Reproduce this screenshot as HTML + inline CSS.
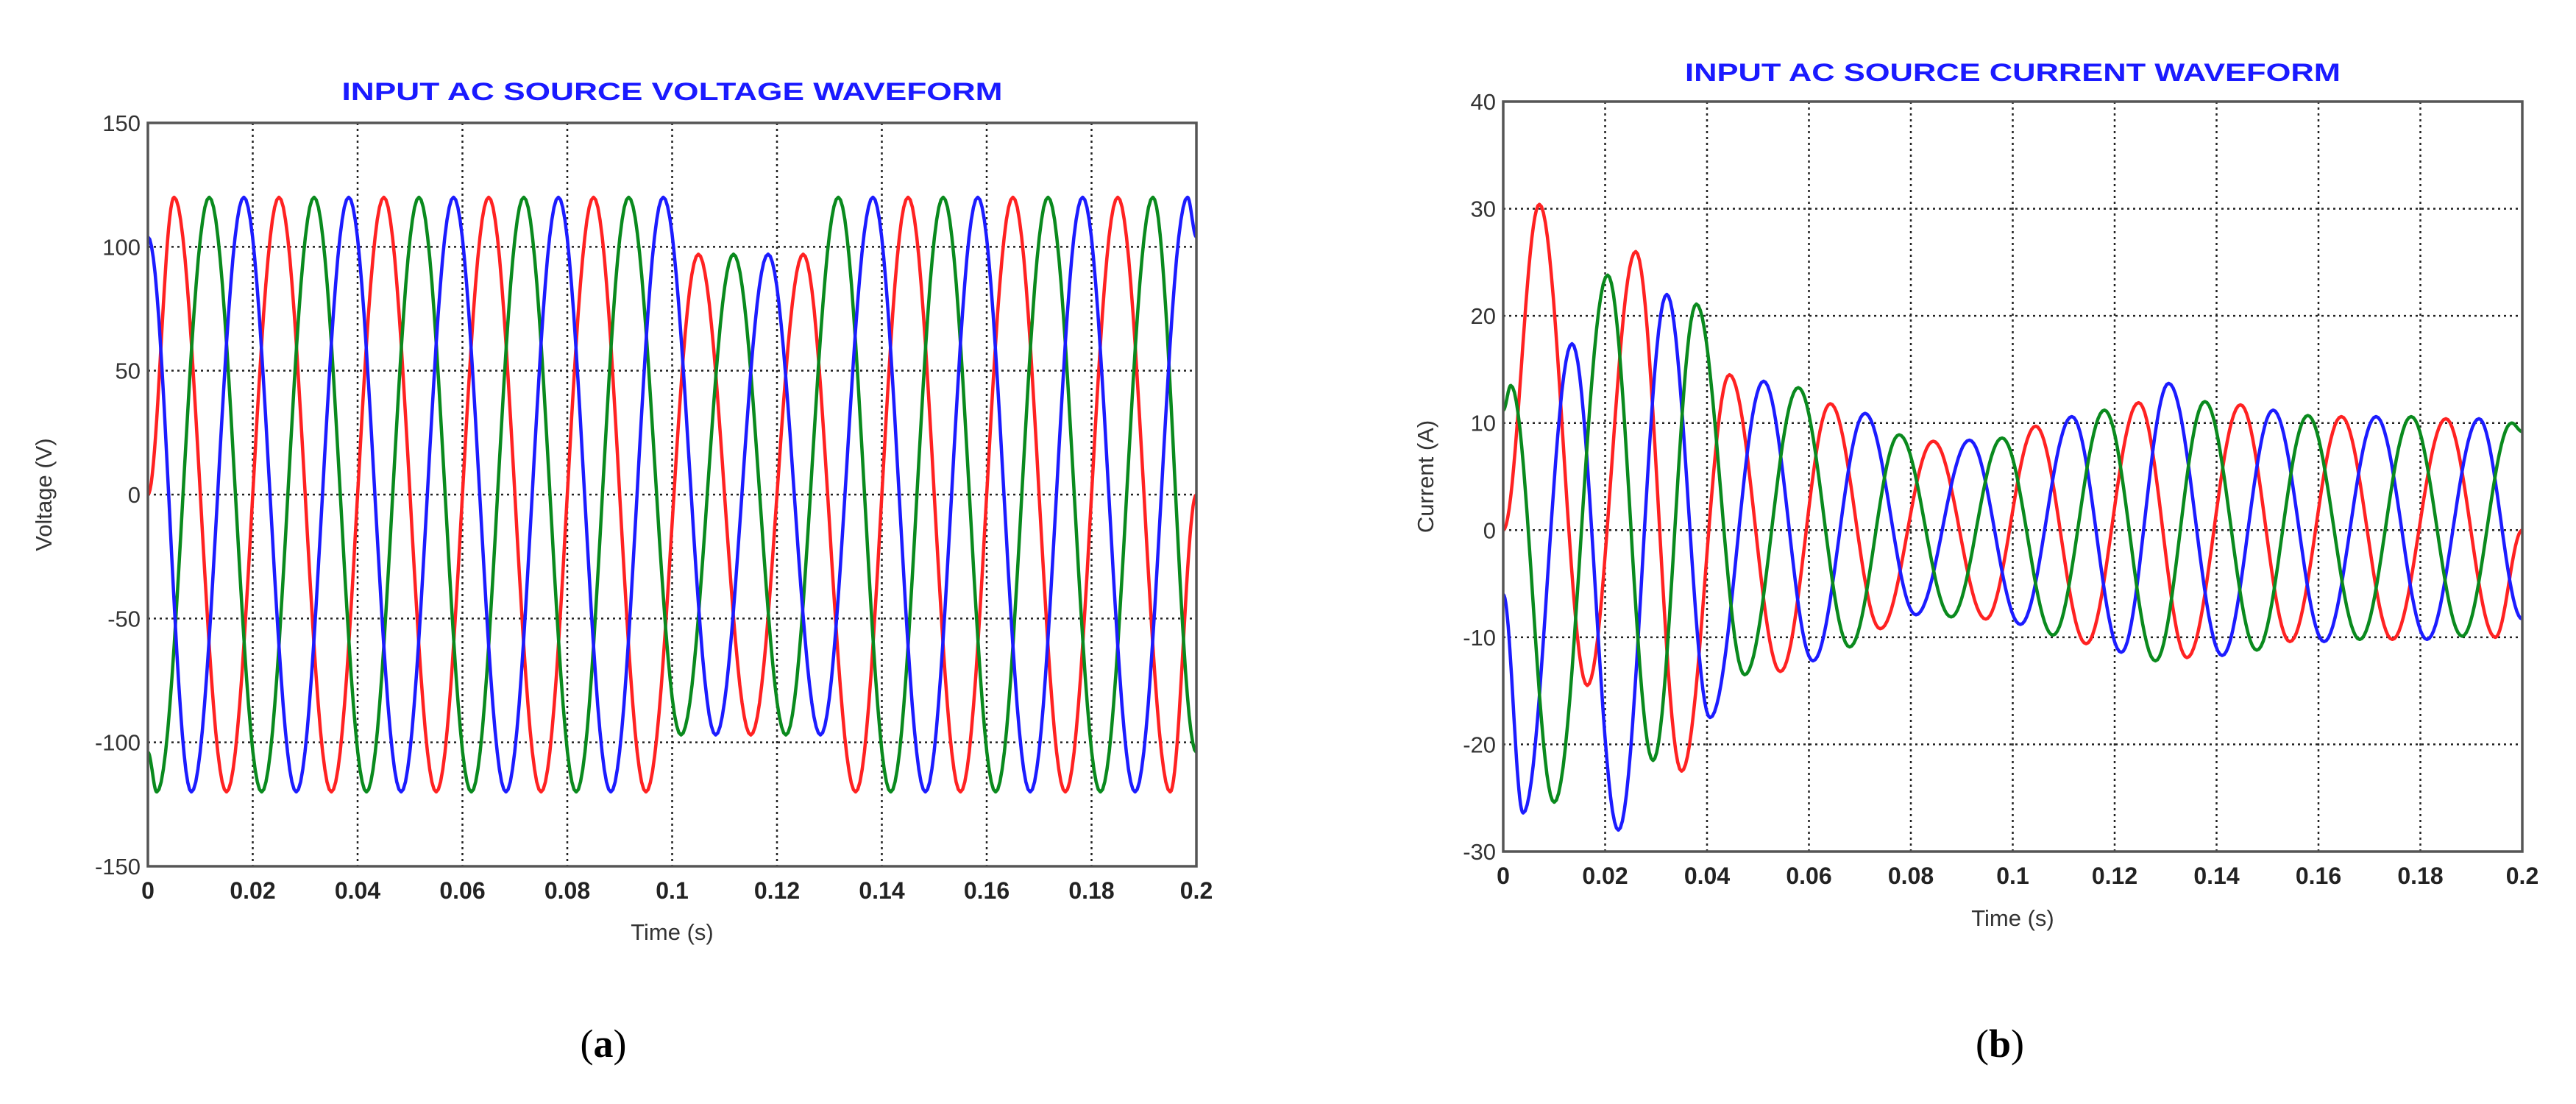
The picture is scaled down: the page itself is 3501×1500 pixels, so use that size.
<!DOCTYPE html>
<html><head><meta charset="utf-8"><style>
html,body{margin:0;padding:0;background:#fff;}
svg{display:block;}
</style></head><body>
<svg id="fig" width="3501" height="1500" viewBox="0 0 3501 1500" xmlns="http://www.w3.org/2000/svg" font-family="Liberation Sans, sans-serif">
<rect width="3501" height="1500" fill="#fff"/>
<g id="chartA"></g>
<g id="chartB"></g>
<text x="820" y="1436" font-family="Liberation Serif, serif" font-size="54" text-anchor="middle">(<tspan font-weight="bold">a</tspan>)</text>
<text x="2718" y="1436" font-family="Liberation Serif, serif" font-size="54" text-anchor="middle">(<tspan font-weight="bold">b</tspan>)</text>
</svg>
<script>
// ---------- Voltage data (extremum times / values) ----------
const vRedT = [0,0.005,0.015,0.025,0.035,0.045,0.055,0.065,0.075,0.085,0.095,0.105,0.115,0.125,0.135,0.145,0.155,0.165,0.175,0.185,0.195,0.2];
const vRedV = [0,120,-120,120,-120,120,-120,120,-120,120,-120,97,-97,97,-120,120,-120,120,-120,120,-120,0];
const vGreenT = [0,0.0017,0.0117,0.0217,0.0317,0.0417,0.0517,0.0617,0.0717,0.0817,0.0917,0.1017,0.1117,0.1217,0.1317,0.1417,0.1517,0.1617,0.1717,0.1817,0.1917,0.2];
const vGreenV = [-104,-120,120,-120,120,-120,120,-120,120,-120,120,-97,97,-97,120,-120,120,-120,120,-120,120,-104];
const vBlueT = [0,0.0083,0.0183,0.0283,0.0383,0.0483,0.0583,0.0683,0.0783,0.0883,0.0983,0.1083,0.1183,0.1283,0.1383,0.1483,0.1583,0.1683,0.1783,0.1883,0.1983,0.2];
const vBlueV = [104,-120,120,-120,120,-120,120,-120,120,-120,120,-97,97,-97,120,-120,120,-120,120,-120,120,104];
const vYTicks = [150,100,50,0,-50,-100,-150];
const xTickLabels = ["0","0.02","0.04","0.06","0.08","0.1","0.12","0.14","0.16","0.18","0.2"];
const xTickVals = [0,0.02,0.04,0.06,0.08,0.1,0.12,0.14,0.16,0.18,0.2];
// ---------- Current data ----------
const iRedT = [0,0.0071,0.0165,0.026,0.035,0.0444,0.0544,0.0642,0.074,0.0844,0.0947,0.1045,0.1144,0.1247,0.1342,0.1447,0.1544,0.1645,0.1745,0.185,0.1947,0.2];
const iRedV = [0,30.4,-14.5,26,-22.5,14.5,-13.2,11.8,-9.2,8.3,-8.3,9.7,-10.6,11.9,-11.9,11.7,-10.4,10.6,-10.2,10.4,-10,0];
const iBlueT = [0,0.0039,0.0135,0.0226,0.0321,0.0406,0.0511,0.0608,0.071,0.081,0.0915,0.1015,0.1116,0.1213,0.1306,0.1411,0.1511,0.1611,0.1713,0.1813,0.1915,0.2];
const iBlueV = [-6,-26.4,17.4,-28,22,-17.5,13.9,-12.2,10.9,-7.9,8.4,-8.8,10.6,-11.4,13.7,-11.7,11.2,-10.4,10.6,-10.2,10.4,-8.3];
const iGreenT = [0,0.0015,0.01,0.0205,0.0294,0.0379,0.0474,0.0579,0.068,0.0777,0.0879,0.0979,0.1079,0.118,0.128,0.1377,0.1479,0.1579,0.1681,0.1782,0.1882,0.1979,0.2];
const iGreenV = [11.2,13.5,-25.4,23.8,-21.5,21.1,-13.5,13.3,-10.9,8.9,-8.1,8.6,-9.8,11.2,-12.2,12,-11.2,10.7,-10.2,10.6,-9.9,10,9.2];
const iYTicks = [40,30,20,10,0,-10,-20,-30];

const NS = "http://www.w3.org/2000/svg";
function mk(parent, tag, attrs, txt){
  const e = document.createElementNS(NS, tag);
  for (const k in attrs) e.setAttribute(k, attrs[k]);
  if (txt !== undefined) e.textContent = txt;
  parent.appendChild(e);
  return e;
}
function drawChart(g, cfg){
  const xs = t => cfg.L + (t - 0) / 0.2 * (cfg.R - cfg.L);
  const ys = v => cfg.B - (v - cfg.yMin) / (cfg.yMax - cfg.yMin) * (cfg.B - cfg.T);
  // title
  const title = mk(g, "text", {x:(cfg.L+cfg.R)/2, y:cfg.titleY, "text-anchor":"middle", "font-size":34, "font-weight":"bold", fill:"#1a1aff", textLength:cfg.titleW, lengthAdjust:"spacingAndGlyphs"}, cfg.title);
  
  
  // grid
  xTickVals.forEach((t,i) => {
    if (i === 0 || i === xTickVals.length-1) return;
    const l = mk(g, "line", {x1:xs(t), x2:xs(t), y1:cfg.T, y2:cfg.B, stroke:"#222", "stroke-width":2.5, "stroke-dasharray":"3 5"});
    
    
  });
  cfg.yTicks.forEach(v => {
    if (v === cfg.yMax || v === cfg.yMin) return;
    const l = mk(g, "line", {x1:cfg.L, x2:cfg.R, y1:ys(v), y2:ys(v), stroke:"#222", "stroke-width":2.5, "stroke-dasharray":"3 5"});
    
    
  });
  // series
  cfg.series.forEach(s => {
    let d = "";
    for (let i = 0; i < s.t.length - 1; i++){
      const t0 = s.t[i], t1 = s.t[i+1], v0 = s.v[i], v1 = s.v[i+1];
      const n = 24;
      for (let j = (i===0?0:1); j <= n; j++){
        const f = j/n;
        const w = (1 - Math.cos(Math.PI*f))/2;
        const t = t0 + (t1-t0)*f, v = v0 + (v1-v0)*w;
        d += (d ? "L" : "M") + xs(t).toFixed(1) + "," + ys(v).toFixed(1);
      }
    }
    const p = mk(g, "path", {d:d, fill:"none", stroke:s.color, "stroke-width":4.5, "stroke-linejoin":"round"});
    
    
  });
  // frame
  const fr = mk(g, "rect", {x:cfg.L, y:cfg.T, width:cfg.R-cfg.L, height:cfg.B-cfg.T, fill:"none", stroke:"#555", "stroke-width":3.5});
  
  
  // y ticks
  cfg.yTicks.forEach(v => {
    const t = mk(g, "text", {x:cfg.L-10, y:ys(v)+11, "text-anchor":"end", "font-size":31, fill:"#333"}, String(v));
    
    
  });
  xTickVals.forEach((tv,i) => {
    const t = mk(g, "text", {x:xs(tv), y:cfg.B+44, "text-anchor":"middle", "font-size":32, "font-weight":"bold", fill:"#222"}, xTickLabels[i]);
    
    
  });
  const xl = mk(g, "text", {x:(cfg.L+cfg.R)/2, y:cfg.xLabelY, "text-anchor":"middle", "font-size":31, fill:"#333"}, "Time (s)");
  
  
  const yl = mk(g, "text", {x:0, y:0, "text-anchor":"middle", "font-size":31, fill:"#333", transform:"translate("+cfg.yLabelX+","+((cfg.T+cfg.B)/2)+") rotate(-90)"}, cfg.yLabel);
  
  
}
drawChart(document.getElementById("chartA"), {
  L:201, R:1626, T:167, B:1177, yMin:-150, yMax:150, yTicks:vYTicks,
  title:"INPUT AC SOURCE VOLTAGE WAVEFORM", titleY:136, titleW:898,
  xLabelY:1277, yLabelX:70, yLabel:"Voltage (V)",
  series:[
    {name:"voltage-phase-red", color:"#ff2222", t:vRedT, v:vRedV},
    {name:"voltage-phase-green", color:"#0a8a1e", t:vGreenT, v:vGreenV},
    {name:"voltage-phase-blue", color:"#1c1cff", t:vBlueT, v:vBlueV}
  ]
});
drawChart(document.getElementById("chartB"), {
  L:2043, R:3428, T:138, B:1157, yMin:-30, yMax:40, yTicks:iYTicks,
  title:"INPUT AC SOURCE CURRENT WAVEFORM", titleY:110, titleW:891,
  xLabelY:1258, yLabelX:1948, yLabel:"Current (A)",
  series:[
    {name:"current-phase-red", color:"#ff2222", t:iRedT, v:iRedV},
    {name:"current-phase-blue", color:"#1c1cff", t:iBlueT, v:iBlueV},
    {name:"current-phase-green", color:"#0a8a1e", t:iGreenT, v:iGreenV}
  ]
});
</script>
</body></html>
